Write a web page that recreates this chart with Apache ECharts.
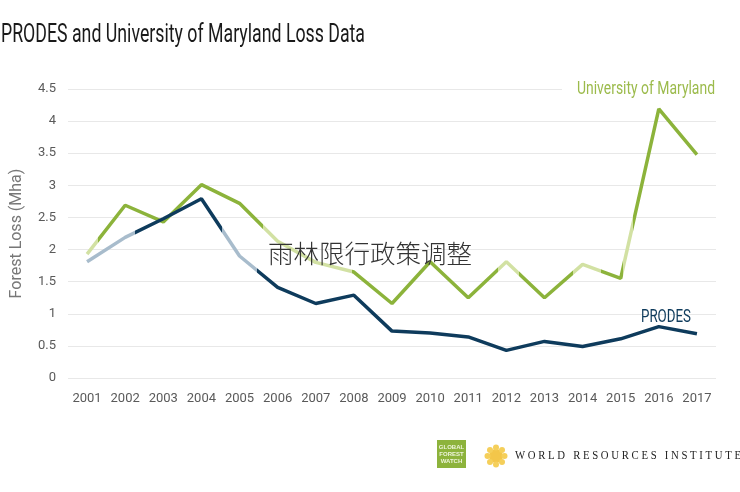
<!DOCTYPE html>
<html><head><meta charset="utf-8">
<script src="https://cdn.jsdelivr.net/npm/echarts@6/dist/echarts.min.js"></script>
<style>html,body{margin:0;padding:0;background:#fff}#c{width:740px;height:492px}</style>
</head><body><div id="c"></div>
<script>
const years = ['2001','2002','2003','2004','2005','2006','2007','2008','2009','2010','2011','2012','2013','2014','2015','2016','2017'];
const umd = [1.93,2.69,2.43,3.01,2.72,2.13,1.80,1.65,1.16,1.81,1.25,1.81,1.25,1.77,1.55,4.19,3.48];
const prodes = [1.81,2.19,2.48,2.79,1.90,1.41,1.16,1.29,0.73,0.70,0.64,0.43,0.57,0.49,0.61,0.80,0.69];
const yTicks = [0,0.5,1,1.5,2,2.5,3,3.5,4,4.5];
const titleText = 'PRODES and University of Maryland Loss Data';
const umdLabel = 'University of Maryland';
const prodesLabel = 'PRODES';
const yName = 'Forest Loss (Mha)';
const watermark = '雨林限行政策调整';

const font = 'Roboto,"DejaVu Sans",sans-serif';
const mctx = document.createElement('canvas').getContext('2d');
function fitScale(text, size, target, fam){ mctx.font = size+'px '+(fam||font); return target/mctx.measureText(text).width; }

// hard-stop gradient along the line (segments in index units of the x axis)
function banded(base, pale, paleRanges){
  const n = years.length-1, stops=[];
  let cur = 0;
  paleRanges.forEach(([a,b])=>{
    stops.push({offset:cur/n,color:base},{offset:a/n,color:base},{offset:a/n,color:pale},{offset:b/n,color:pale});
    cur=b;
  });
  stops.push({offset:cur/n,color:base},{offset:1,color:base});
  return new echarts.graphic.LinearGradient(0,0,1,0,stops);
}
const G='#8cb33b', GP='#d2e1a3', B='#0e3b5c', BP='#a8bccc';

const chart = echarts.init(document.getElementById('c'));
chart.setOption({
  animation:false,
  backgroundColor:'#fff',
  grid:{left:68,right:24,top:89,bottom:114},
  xAxis:{type:'category',data:years,boundaryGap:true,
    axisLine:{show:false},axisTick:{show:false},
    axisLabel:{color:'#5a5a5a',fontFamily:font,fontSize:13,margin:14,interval:0}},
  yAxis:{type:'value',min:0,max:4.5,interval:0.5,
    name:yName,nameLocation:'middle',nameGap:43,
    nameTextStyle:{color:'#777',fontFamily:font,fontSize:16},
    axisLabel:{color:'#5a5a5a',fontFamily:font,fontSize:13,margin:12,
      formatter:v=>yTicks.includes(v)?String(v):''},
    splitLine:{lineStyle:{color:'#e8e8e8',width:1}}},
  series:[
    {name:'University of Maryland',type:'line',data:umd,showSymbol:false,
      lineStyle:{color:banded(G,GP,[[0,0.35],[4.65,6.95],[10.75,11.3],[12.7,13.45],[14.0,14.28]]),width:3.5},
      itemStyle:{color:G},z:2},
    {name:'PRODES',type:'line',data:prodes,showSymbol:false,
      lineStyle:{color:banded(B,BP,[[0,1.3],[3.57,4.5]]),width:3.5},itemStyle:{color:B},z:3}
  ],
  graphic:[
    {type:'text',x:1,y:35,scaleX:fitScale(titleText,26,364),z:10,
      style:{text:titleText,fill:'#1a1a1a',font:'26px '+font,verticalAlign:'middle'}},
    {type:'rect',x:562,y:80,z:9,shape:{width:160,height:20},style:{fill:'#fff'}},
    {type:'text',x:577,y:89,scaleX:fitScale(umdLabel,18,138),z:10,
      style:{text:umdLabel,fill:'#9cbb4c',font:'18px '+font,verticalAlign:'middle'}},
    {type:'text',x:641,y:318,scaleX:fitScale(prodesLabel,17.5,50),z:10,
      style:{text:prodesLabel,fill:'#0e3b5c',font:'17.5px '+font,verticalAlign:'middle'}},
    {type:'text',x:268,y:253,z:20,style:{text:watermark,fill:'#333',
      font:'300 25.5px "Noto Sans CJK SC",sans-serif',verticalAlign:'middle'}},
    {type:'rect',x:437,y:440,z:10,shape:{width:29,height:28},style:{fill:'#8db33c'}},
    {type:'text',x:451.5,y:454,z:11,style:{text:'GLOBAL\nFOREST\nWATCH',fill:'#eef5dc',
      font:'bold 6px sans-serif',lineHeight:7,align:'center',verticalAlign:'middle'}},
    {type:'group',x:485,y:445,z:10,children:[
      {type:'circle',shape:{cx:11,cy:11,r:7},style:{fill:'#f3c64a'}},
      {type:'circle',shape:{cx:11,cy:2.5,r:3},style:{fill:'#f5cf5a'}},
      {type:'circle',shape:{cx:11,cy:19.5,r:3},style:{fill:'#f5cf5a'}},
      {type:'circle',shape:{cx:2.5,cy:11,r:3},style:{fill:'#f5cf5a'}},
      {type:'circle',shape:{cx:19.5,cy:11,r:3},style:{fill:'#f5cf5a'}},
      {type:'circle',shape:{cx:5,cy:5,r:3},style:{fill:'#f5cf5a'}},
      {type:'circle',shape:{cx:17,cy:5,r:3},style:{fill:'#f5cf5a'}},
      {type:'circle',shape:{cx:5,cy:17,r:3},style:{fill:'#f5cf5a'}},
      {type:'circle',shape:{cx:17,cy:17,r:3},style:{fill:'#f5cf5a'}}
    ]},
    {type:'text',x:515,y:456,z:10,scaleX:fitScale('W O R L D   R E S O U R C E S   I N S T I T U T E',12,226,'"Liberation Serif",serif'),
      style:{text:'W O R L D   R E S O U R C E S   I N S T I T U T E',
      fill:'#222',font:'12px "Liberation Serif","DejaVu Serif",serif',verticalAlign:'middle'}}
  ]
});
</script></body></html>
